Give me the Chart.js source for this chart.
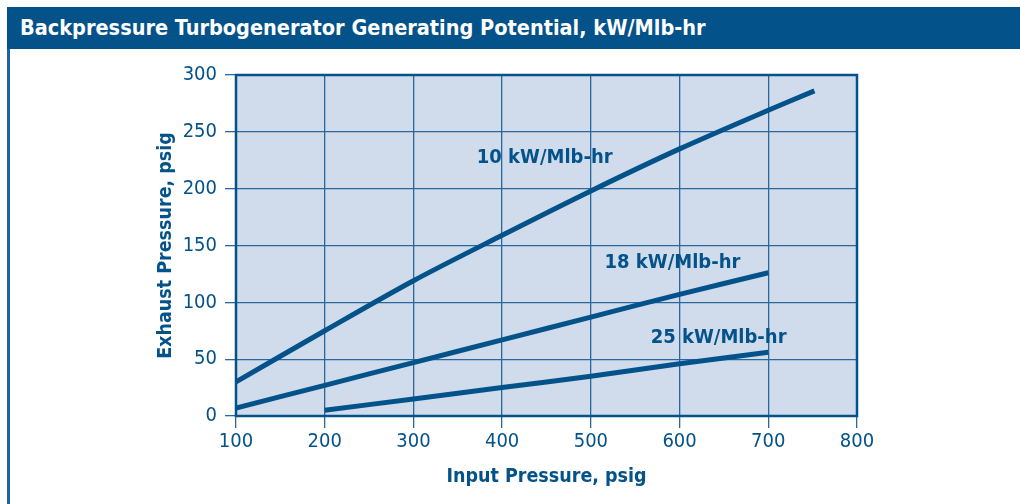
<!DOCTYPE html>
<html>
<head>
<meta charset="utf-8">
<script src="https://cdn.jsdelivr.net/npm/chart.js@4"></script>
<style>
    html, body { margin: 0; padding: 0; background: #fff; }
    #wrap { position: relative; width: 1020px; height: 504px; overflow: hidden; }
    #titleBar {
        position: absolute; left: 7px; top: 7px; width: 1013px; height: 42px;
        background: #04528a; color: #fff;
        font-family: 'Liberation Sans Narrow', 'DejaVu Sans Condensed', sans-serif;
        font-weight: bold; font-size: 21.5px; line-height: 42px;
        padding-left: 13px; box-sizing: border-box; white-space: nowrap;
    }
    #leftRule { position: absolute; left: 7px; top: 49px; width: 3px; height: 455px; background: #1f62a0; }
    #chartBox { position: absolute; left: 0; top: 0; width: 1020px; height: 504px; }
</style>
</head>
<body>
<div id="wrap">
    <div id="chartBox"><canvas id="turboChart" width="1020" height="504"></canvas></div>
    <div id="titleBar">Backpressure Turbogenerator Generating Potential, kW/Mlb-hr</div>
    <div id="leftRule"></div>
</div>
<script>
// Dữ liệu
const seriesNames = ['10 kW/Mlb-hr', '18 kW/Mlb-hr', '25 kW/Mlb-hr'];
const input10 = [100, 200, 300, 400, 500, 600, 700, 752];
const exhaust10 = [30, 75, 119, 159, 198, 235, 269, 286];
const input18 = [100, 200, 300, 400, 500, 600, 700];
const exhaust18 = [7, 27, 47, 67, 87, 107, 126];
const input25 = [200, 300, 400, 500, 600, 700];
const exhaust25 = [5, 15, 25, 35, 46, 56];
const xTicks = [100, 200, 300, 400, 500, 600, 700, 800];
const yTicks = [0, 50, 100, 150, 200, 250, 300];

document.addEventListener('DOMContentLoaded', () => {
    const blue = '#04528a';
    const gridBlue = '#2a679c';
    const narrow = "'Liberation Sans Narrow', 'DejaVu Sans Condensed', sans-serif";

    const toPoints = (xs, ys) => xs.map((x, i) => ({ x: x, y: ys[i] }));

    // nền xanh nhạt của vùng vẽ + khung
    const plotBackground = {
        id: 'plotBackground',
        beforeDraw(chart) {
            const { ctx, chartArea: a } = chart;
            ctx.save();
            ctx.fillStyle = '#d0dcec';
            ctx.fillRect(a.left, a.top, a.right - a.left, a.bottom - a.top);
            ctx.restore();
        },
        afterDraw(chart) {
            const { ctx, chartArea: a } = chart;
            ctx.save();
            ctx.strokeStyle = blue;
            ctx.lineWidth = 2.5;
            ctx.strokeRect(a.left, a.top, a.right - a.left, a.bottom - a.top);
            ctx.restore();
        }
    };

    // nhãn cho từng đường
    const lineLabels = {
        id: 'lineLabels',
        afterDatasetsDraw(chart) {
            const { ctx, scales: { x, y } } = chart;
            const spots = [[448, 227], [592, 135], [644, 69]];
            ctx.save();
            ctx.fillStyle = blue;
            ctx.font = 'bold 20px ' + narrow;
            ctx.textAlign = 'center';
            ctx.textBaseline = 'middle';
            seriesNames.forEach((name, i) => {
                ctx.fillText(name, x.getPixelForValue(spots[i][0]), y.getPixelForValue(spots[i][1]));
            });
            ctx.restore();
        }
    };

    const mkSet = (name, pts) => ({
        label: name,
        data: pts,
        borderColor: blue,
        borderWidth: 5,
        pointRadius: 0,
        fill: false,
        tension: 0.3,
        borderCapStyle: 'butt'
    });

    const ctx = document.getElementById('turboChart').getContext('2d');
    new Chart(ctx, {
        type: 'line',
        data: {
            datasets: [
                mkSet(seriesNames[0], toPoints(input10, exhaust10)),
                mkSet(seriesNames[1], toPoints(input18, exhaust18)),
                mkSet(seriesNames[2], toPoints(input25, exhaust25))
            ]
        },
        options: {
            responsive: false,
            animation: false,
            layout: { padding: { left: 154, top: 75, right: 163, bottom: 15 } },
            plugins: { legend: { display: false }, tooltip: { enabled: false } },
            scales: {
                x: {
                    type: 'linear',
                    min: 100, max: 800,
                    afterBuildTicks: (s) => { s.ticks = xTicks.map(v => ({ value: v })); },
                    afterFit: (s) => { s.height = 73; },
                    grid: { color: gridBlue, lineWidth: 1.3, tickLength: 12, drawTicks: true },
                    border: { display: false },
                    ticks: { color: blue, font: { family: narrow, size: 20 }, padding: 2, maxRotation: 0 },
                    title: {
                        display: true, text: 'Input Pressure, psig', color: blue,
                        font: { family: narrow, size: 19.5, weight: 'bold' }, padding: 0
                    }
                },
                y: {
                    type: 'linear',
                    min: 0, max: 300,
                    afterBuildTicks: (s) => { s.ticks = yTicks.map(v => ({ value: v })); },
                    afterFit: (s) => { s.width = 82; },
                    grid: { color: gridBlue, lineWidth: 1.3, tickLength: 11, drawTicks: true },
                    border: { display: false },
                    ticks: { color: blue, font: { family: narrow, size: 20 }, padding: 8 },
                    title: {
                        display: true, text: 'Exhaust Pressure, psig', color: blue,
                        font: { family: narrow, size: 19.5, weight: 'bold' }, padding: 0
                    }
                }
            }
        },
        plugins: [plotBackground, lineLabels]
    });
});
</script>
</body>
</html>
